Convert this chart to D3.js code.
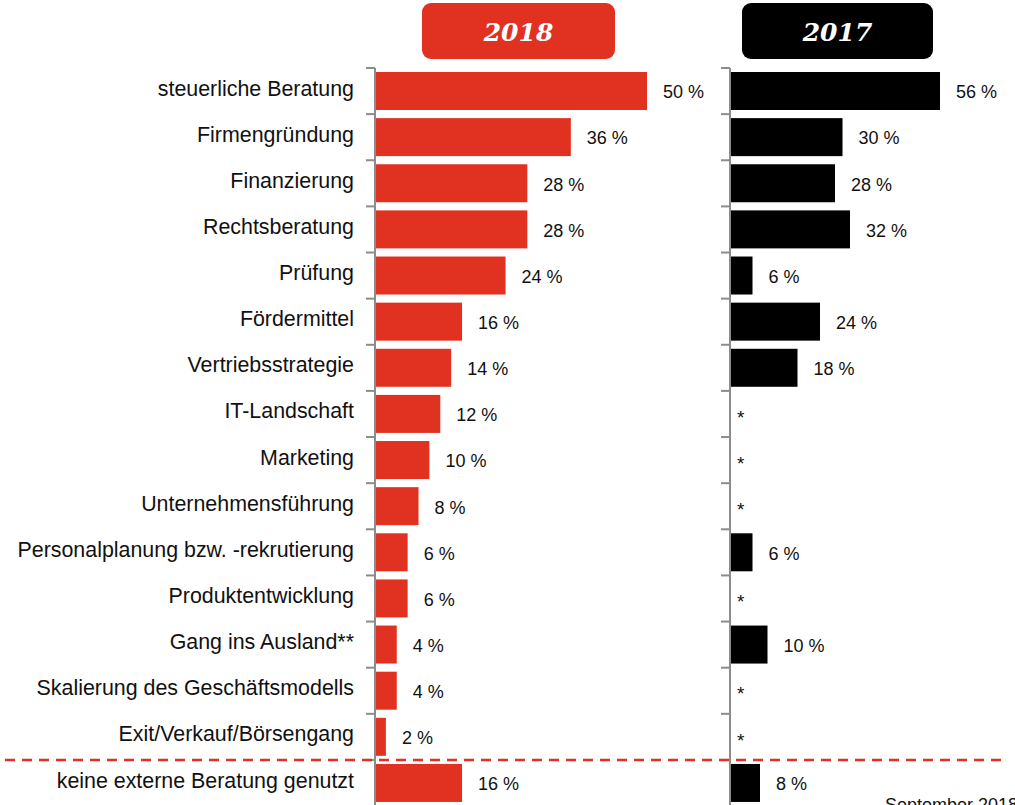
<!DOCTYPE html>
<html>
<head>
<meta charset="utf-8">
<script src="https://cdn.jsdelivr.net/npm/d3@7"></script>
<style>
  body { margin: 0; background: #fff; }
  svg { display: block; }
  .cat { font-family: "Liberation Sans", Arial, sans-serif; font-size: 21.4px; fill: #111; }
  .val { font-family: "Liberation Sans", Arial, sans-serif; font-size: 18px; fill: #111; }
  .head { font-family: "DejaVu Serif", serif; font-weight: bold; font-style: italic; font-size: 25px; fill: #fff; }
</style>
</head>
<body>
<svg id="chart" width="1015" height="805"></svg>
<script>
// values, in percent; null = "*" (not asked in 2017)
const categories = [
    "steuerliche Beratung", "Firmengründung", "Finanzierung", "Rechtsberatung",
    "Prüfung", "Fördermittel", "Vertriebsstrategie", "IT-Landschaft", "Marketing",
    "Unternehmensführung", "Personalplanung bzw. -rekrutierung", "Produktentwicklung",
    "Gang ins Ausland**", "Skalierung des Geschäftsmodells", "Exit/Verkauf/Börsengang",
    "keine externe Beratung genutzt"
];
const values2018 = [50, 36, 28, 28, 24, 16, 14, 12, 10, 8, 6, 6, 4, 4, 2, 16];
const values2017 = [56, 30, 28, 32, 6, 24, 18, null, null, null, 6, null, 10, null, null, 8];
const years = ["2018", "2017"];

const svg = d3.select("#chart");
const red = "#e03121";

const y = d3.scaleBand()
    .domain(categories)
    .range([68, 68 + categories.length * 46.13]);

// two panels with their own x scales
const panels = [
    { year: years[0], data: values2018, x0: 375, scale: d3.scaleLinear().domain([0, 50]).range([375, 647]),
      color: red, box: [422, 615] },
    { year: years[1], data: values2017, x0: 730, scale: d3.scaleLinear().domain([0, 56]).range([730, 940]),
      color: "#000", box: [742, 933] }
];

// category labels
svg.selectAll("text.cat")
    .data(categories)
    .enter().append("text")
    .attr("class", "cat")
    .attr("x", 354)
    .attr("y", d => y(d) + y.bandwidth() / 2 - 3)
    .attr("dy", "0.35em")
    .attr("text-anchor", "end")
    .text(d => d);

panels.forEach(p => {
    // header box
    svg.append("rect")
        .attr("x", p.box[0]).attr("y", 3)
        .attr("width", p.box[1] - p.box[0]).attr("height", 56)
        .attr("rx", 9)
        .attr("fill", p.color);
    svg.append("text")
        .attr("class", "head")
        .attr("x", (p.box[0] + p.box[1]) / 2)
        .attr("y", 41)
        .attr("text-anchor", "middle")
        .text(p.year);

    const rows = categories.map((c, i) => ({ cat: c, v: p.data[i] }));

    svg.selectAll(null)
        .data(rows.filter(d => d.v !== null))
        .enter().append("rect")
        .attr("x", p.x0)
        .attr("y", d => y(d.cat) + 4)
        .attr("width", d => p.scale(d.v) - p.x0)
        .attr("height", 38)
        .attr("fill", p.color);

    svg.selectAll(null)
        .data(rows)
        .enter().append("text")
        .attr("class", "val")
        .attr("x", d => d.v === null ? p.x0 + 7 : p.scale(d.v) + 16)
        .attr("y", d => y(d.cat) + y.bandwidth() / 2 + (d.v === null ? 3 : 1))
        .attr("dy", "0.35em")
        .style("font-size", d => d.v === null ? "19px" : null)
        .text(d => d.v === null ? "*" : d.v + " %");

    // axis with ticks on band borders
    const axis = svg.append("g");
    axis.append("line")
        .attr("x1", p.x0).attr("x2", p.x0)
        .attr("y1", 68).attr("y2", 805)
        .attr("stroke", "#8c8c8c").attr("stroke-width", 2);
    axis.selectAll("line.tick")
        .data(categories)
        .enter().append("line")
        .attr("x1", p.x0 - 9).attr("x2", p.x0)
        .attr("y1", d => y(d)).attr("y2", d => y(d))
        .attr("stroke", "#8c8c8c").attr("stroke-width", 2);
});

// dashed separator before the last row
const sepY = y(categories[categories.length - 1]);
svg.append("line")
    .attr("x1", 5).attr("x2", 1005)
    .attr("y1", sepY).attr("y2", sepY)
    .attr("stroke", red).attr("stroke-width", 2.5)
    .attr("stroke-dasharray", "10,7");

svg.append("text")
    .attr("class", "val")
    .attr("x", 885).attr("y", 811)
    .text("September 2018");
</script>
</body>
</html>
